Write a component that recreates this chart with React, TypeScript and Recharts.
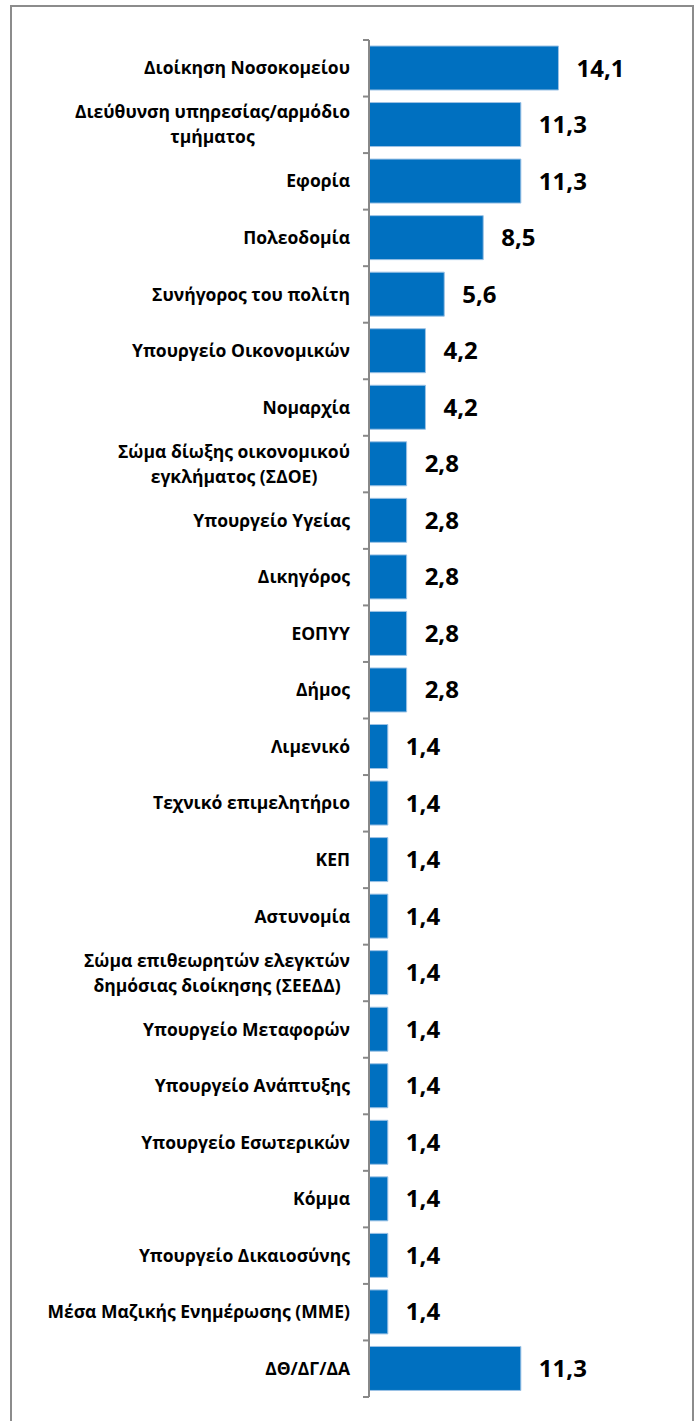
import React from 'react';
import { BarChart, Bar, XAxis, YAxis, LabelList } from 'recharts';

const categories = [
  'Διοίκηση Νοσοκομείου',
  'Διεύθυνση υπηρεσίας/αρμόδιο\nτμήματος',
  'Εφορία',
  'Πολεοδομία',
  'Συνήγορος του πολίτη',
  'Υπουργείο Οικονομικών',
  'Νομαρχία',
  'Σώμα δίωξης οικονομικού\nεγκλήματος (ΣΔΟΕ)',
  'Υπουργείο Υγείας',
  'Δικηγόρος',
  'ΕΟΠΥΥ',
  'Δήμος',
  'Λιμενικό',
  'Τεχνικό επιμελητήριο',
  'ΚΕΠ',
  'Αστυνομία',
  'Σώμα επιθεωρητών ελεγκτών\nδημόσιας διοίκησης (ΣΕΕΔΔ)',
  'Υπουργείο Μεταφορών',
  'Υπουργείο Ανάπτυξης',
  'Υπουργείο Εσωτερικών',
  'Κόμμα',
  'Υπουργείο Δικαιοσύνης',
  'Μέσα Μαζικής Ενημέρωσης (ΜΜΕ)',
  'ΔΘ/ΔΓ/ΔΑ',
];

const values = [
  14.1, 11.3, 11.3, 8.5, 5.6, 4.2, 4.2, 2.8, 2.8, 2.8, 2.8, 2.8,
  1.4, 1.4, 1.4, 1.4, 1.4, 1.4, 1.4, 1.4, 1.4, 1.4, 1.4, 11.3,
];

const data = categories.map((name, i) => ({ name, value: values[i] }));

const FONT = '"Open Sans", sans-serif';
const LABEL_SIZE = 17.5;
const CHART_W = 699;
const CHART_H = 1421;
const MARGIN = { top: 40, right: 115, bottom: 24, left: 0 };
const AXIS_W = 369;
const BAND = (CHART_H - MARGIN.top - MARGIN.bottom) / categories.length;

let ctx: CanvasRenderingContext2D | null = null;
function measure(text: string) {
  if (!ctx) ctx = document.createElement('canvas').getContext('2d');
  if (!ctx) return text.length * 9;
  ctx.font = `bold ${LABEL_SIZE}px "Open Sans"`;
  return ctx.measureText(text).width;
}

// category label (multi-line centred) plus Excel-style tick between categories
function CategoryTick(props: any) {
  const { y, payload, index } = props;
  const lines: string[] = String(payload.value).split('\n');
  const axisX = MARGIN.left + AXIS_W;
  const right = axisX - 19;
  const lh = 25;
  const widest = Math.max(...lines.map(measure));
  const top = y - ((lines.length - 1) * lh) / 2;
  return (
    <g>
      <line x1={axisX - 6} x2={axisX} y1={y - BAND / 2} y2={y - BAND / 2} stroke="#888" strokeWidth={2} />
      {index === categories.length - 1 && (
        <line x1={axisX - 6} x2={axisX} y1={y + BAND / 2} y2={y + BAND / 2} stroke="#888" strokeWidth={2} />
      )}
      {lines.map((ln, i) => (
        <text
          key={i}
          x={lines.length > 1 ? right - widest / 2 : right}
          y={top + i * lh}
          dy="0.35em"
          textAnchor={lines.length > 1 ? 'middle' : 'end'}
          fontFamily={FONT}
          fontWeight="bold"
          fontSize={LABEL_SIZE}
          fill="#000"
        >
          {ln}
        </text>
      ))}
    </g>
  );
}

export default function App() {
  return (
    <div style={{ position: 'absolute', left: 0, top: 0, width: CHART_W, height: CHART_H, background: '#fff', overflow: 'hidden' }}>
      <div
        style={{
          position: 'absolute',
          left: 10,
          top: 5,
          width: 684,
          height: 1440,
          border: '2px solid #8c8c8c',
          boxSizing: 'border-box',
        }}
      />
      <div style={{ position: 'absolute', left: 0, top: 0 }}>
        <BarChart width={CHART_W} height={CHART_H} data={data} layout="vertical" margin={MARGIN} barSize={44}>
          <XAxis type="number" domain={[0, 16]} hide />
          <YAxis
            type="category"
            dataKey="name"
            width={AXIS_W}
            axisLine={{ stroke: '#888', strokeWidth: 2 }}
            tickLine={false}
            tick={<CategoryTick />}
            interval={0}
          />
          <Bar dataKey="value" fill="#0070C0" stroke="#9cc2e5" strokeWidth={1} isAnimationActive={false}>
            <LabelList
              dataKey="value"
              position="right"
              offset={18}
              formatter={(v: any) => Number(v).toFixed(1).replace('.', ',')}
              style={{ fontFamily: FONT, fontWeight: 'bold', fontSize: 24, fill: '#000' }}
            />
          </Bar>
        </BarChart>
      </div>
    </div>
  );
}
